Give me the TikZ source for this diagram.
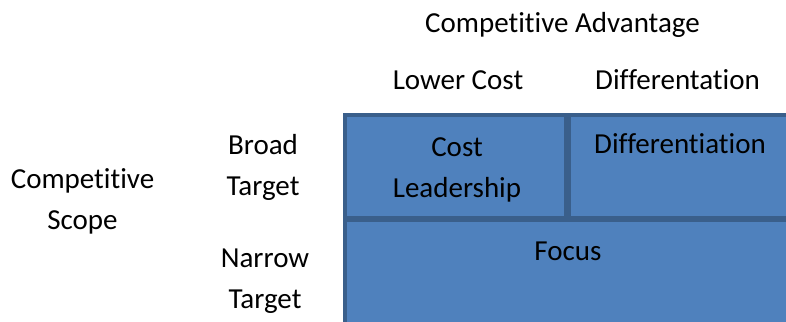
\documentclass[tikz,border=0pt]{standalone}
\usepackage{fontspec}
\setmainfont{Carlito}[Ligatures=NoCommon]
\usetikzlibrary{positioning}
\definecolor{boxfill}{HTML}{4F81BD}
\definecolor{boxline}{HTML}{3A5F8B}

\begin{document}
\begin{tikzpicture}[x=1pt,y=1pt]

\tikzstyle{block} = [draw=boxline, fill=boxfill, line width=4pt, inner sep=0pt, outer sep=0pt]
\tikzstyle{textblock} = [align=center, font=\fontsize{29}{41}\selectfont, inner sep=0pt, anchor=base]

\useasboundingbox (0,0) rectangle (786,-321);
\coordinate (anchor) at (0,0);

%Boxes: strategy grid

\path (anchor)+(455.5,-166.5) node (cost_box) [block, minimum width=221, minimum height=103] {};
\path (cost_box.east)+(3,0) node (diff_box) [block, anchor=west, minimum width=231, minimum height=103] {};
\path (cost_box.south west)+(0,-2) node (focus_box) [block, anchor=north west, minimum width=455, minimum height=120] {};

%Texts in the boxes (baseline of the last line)

\path (anchor)+(457,-197) node (cost_text) [textblock] {Cost\\Leadership};
\path (anchor)+(680,-153) node (diff_text) [textblock] {Differentiation};
\path (anchor)+(568,-260) node (focus_text) [textblock] {Focus};

%Headers: top

\path (anchor)+(562.5,-33) node (adv_header) [textblock] {Competitive Advantage};
\path (anchor)+(458,-89) node (cost_header) [textblock] {Lower Cost};
\path (anchor)+(677.5,-89) node (diff_header) [textblock] {Differentation};

%Headers: left

\path (anchor)+(263,-195) node (broad_header) [textblock] {Broad\\Target};
\path (anchor)+(265,-308) node (narrow_header) [textblock] {Narrow\\Target};
\path (anchor)+(82.5,-229) node (scope_header) [textblock] {Competitive\\Scope};

\end{tikzpicture}
\end{document}
